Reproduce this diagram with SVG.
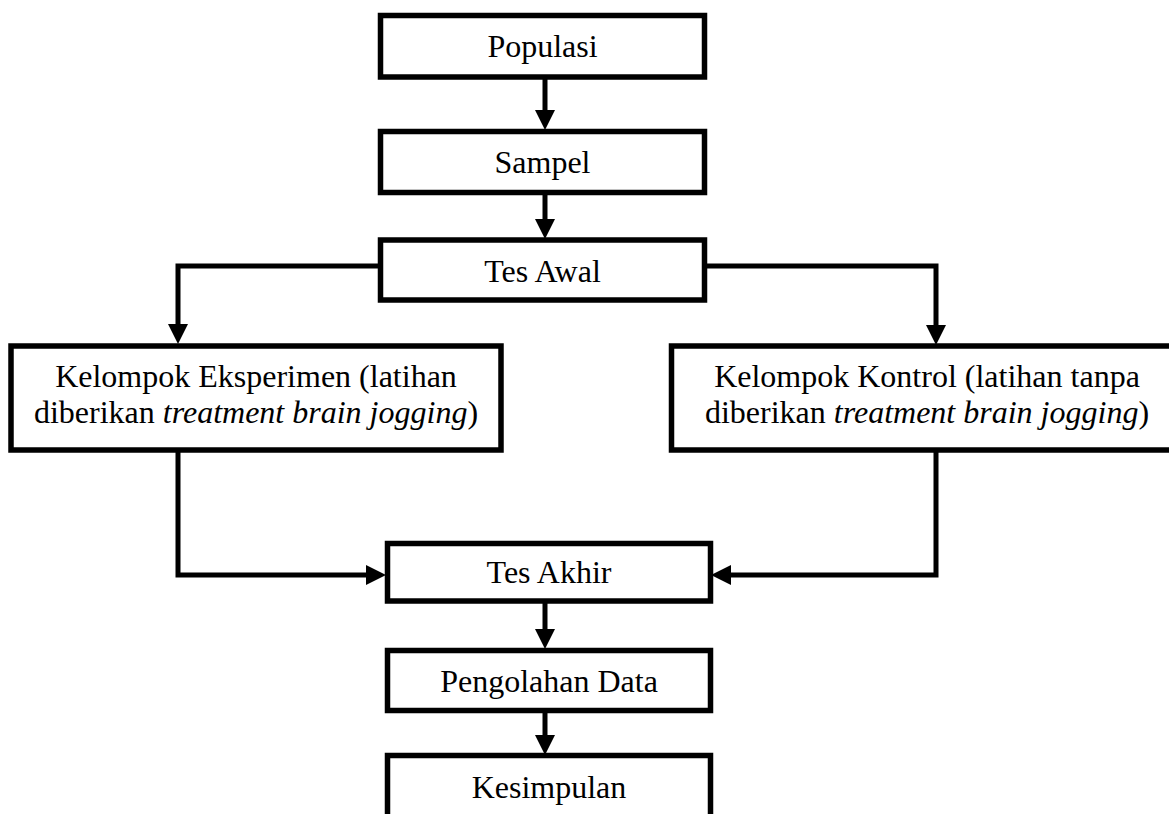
<svg xmlns="http://www.w3.org/2000/svg" width="1169" height="814" viewBox="0 0 1169 814">
<style>
  .box { fill: #ffffff; stroke: #000000; stroke-width: 5.5; }
  .lbl { font-family: "Liberation Serif", "Times New Roman", serif; font-size: 32px; fill: #000000; text-anchor: middle; }
  .it { font-style: italic; }
  .conn { fill: none; stroke: #000000; stroke-width: 5; stroke-linejoin: miter; }
</style>
<defs>
  <marker id="arrow" markerUnits="userSpaceOnUse" markerWidth="20" markerHeight="20" refX="0" refY="10" orient="auto">
    <path d="M0,0 L20,10 L0,20 Z" fill="#000000"/>
  </marker>
</defs>
<rect width="1169" height="814" fill="#ffffff"/>
<g id="connectors">
  <line class="conn" x1="545" y1="78" x2="545" y2="110" marker-end="url(#arrow)"/>
  <line class="conn" x1="545" y1="193" x2="545" y2="219" marker-end="url(#arrow)"/>
  <polyline class="conn" points="380,266 178,266 178,324" marker-end="url(#arrow)"/>
  <polyline class="conn" points="705,266 936,266 936,325" marker-end="url(#arrow)"/>
  <polyline class="conn" points="178,452 178,575 366,575" marker-end="url(#arrow)"/>
  <polyline class="conn" points="936,452 936,575 731,575" marker-end="url(#arrow)"/>
  <line class="conn" x1="545" y1="602" x2="545" y2="629" marker-end="url(#arrow)"/>
  <line class="conn" x1="545" y1="712" x2="545" y2="735" marker-end="url(#arrow)"/>
</g>
<g id="populasi">
  <rect class="box" x="380.5" y="15.5" width="324" height="61.5"/>
  <text class="lbl" x="542.5" y="57">Populasi</text>
</g>
<g id="sampel">
  <rect class="box" x="380.5" y="131.5" width="324" height="61"/>
  <text class="lbl" x="542.5" y="173">Sampel</text>
</g>
<g id="tes-awal">
  <rect class="box" x="380.5" y="240" width="324" height="60"/>
  <text class="lbl" x="542.5" y="282">Tes Awal</text>
</g>
<g id="kelompok-eksperimen">
  <rect class="box" x="11" y="346" width="490" height="104"/>
  <text class="lbl" x="256" y="387">Kelompok Eksperimen (latihan</text>
  <text class="lbl" x="256" y="423">diberikan <tspan class="it">treatment brain jogging</tspan>)</text>
</g>
<g id="kelompok-kontrol">
  <rect class="box" x="671.5" y="346" width="511" height="104"/>
  <text class="lbl" x="927" y="387">Kelompok Kontrol (latihan tanpa</text>
  <text class="lbl" x="927" y="423">diberikan <tspan class="it">treatment brain jogging</tspan>)</text>
</g>
<g id="tes-akhir">
  <rect class="box" x="387.5" y="543.5" width="323" height="57.5"/>
  <text class="lbl" x="549" y="583">Tes Akhir</text>
</g>
<g id="pengolahan-data">
  <rect class="box" x="387.5" y="650.5" width="323" height="60"/>
  <text class="lbl" x="549" y="692">Pengolahan Data</text>
</g>
<g id="kesimpulan">
  <rect class="box" x="387.5" y="755.5" width="323" height="80"/>
  <text class="lbl" x="549" y="798">Kesimpulan</text>
</g>
</svg>
